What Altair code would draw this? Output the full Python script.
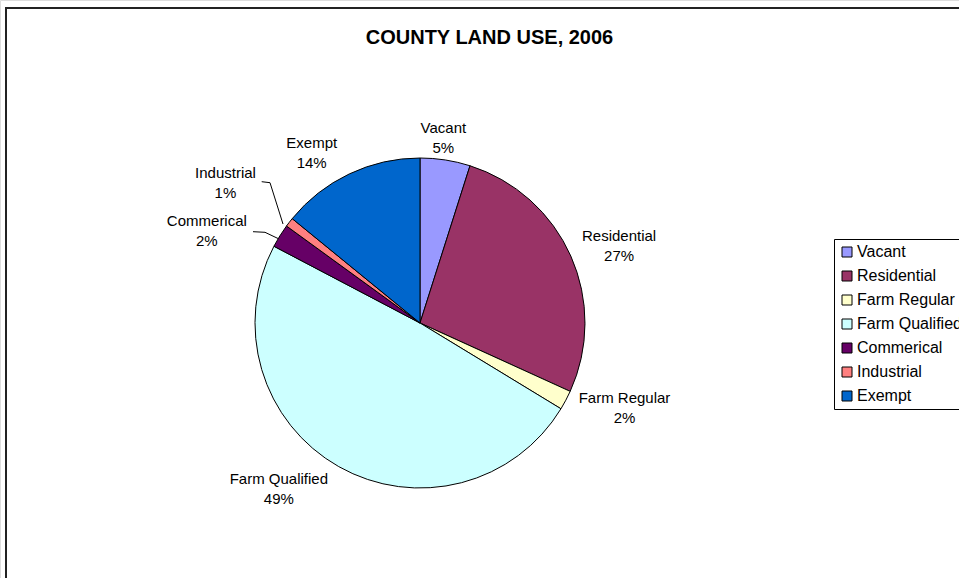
import altair as alt
import pandas as pd

categories = ["Vacant", "Residential", "Farm Regular", "Farm Qualified",
              "Commerical", "Industrial", "Exempt"]
values = [4.9, 26.9, 1.9, 49.0, 2.3, 0.9, 14.1]
colors = ["#9999FF", "#993366", "#FFFFCC", "#CCFFFF", "#660066", "#FF8080", "#0066CC"]
title_text = "COUNTY LAND USE, 2006"

df = pd.DataFrame({"category": categories, "value": values,
                   "idx": list(range(len(categories)))})

FONT = "Liberation Sans"
CX, CY = 420, 323   # pie centre (layout)
R = 165

base = alt.Chart(df)

theta_scale = alt.Scale(domain=[0, 100])

pie = base.mark_arc(x=CX, y=CY, outerRadius=R, stroke="black", strokeWidth=1).encode(
    theta=alt.Theta("value:Q", stack=True, scale=theta_scale),
    order=alt.Order("idx:Q"),
    color=alt.Color(
        "category:N",
        scale=alt.Scale(domain=categories, range=colors),
        sort=categories,
        legend=alt.Legend(
            title=None, orient="none", legendX=834, legendY=239,
            symbolType="square", symbolSize=100, symbolStrokeColor="black",
            symbolStrokeWidth=1, labelFont=FONT, labelFontSize=16,
            labelColor="black", rowPadding=8, labelOffset=2,
            strokeColor="black", fillColor="white", padding=5,
        ),
    ),
)

# label offsets (layout only)
label_pos = {
    "Vacant": (-5, -12),
    "Residential": (30, -12),
    "Farm Regular": (41, -12),
    "Farm Qualified": (-50, -5),
    "Commerical": (-56, -4),
    "Industrial": (-48, -37),
    "Exempt": (-29, -13),
}

label_layers = []
for cat in categories:
    ddx, ddy = label_pos[cat]
    lyr = base.transform_window(
        cum="sum(value)", sort=[alt.SortField("idx")], frame=[None, 0]
    ).transform_calculate(
        mid="datum.cum - datum.value / 2",
        label="datum.category + '\\n' + format(datum.value, '.0f') + '%'",
    ).transform_filter(
        alt.datum.category == cat
    ).mark_text(
        x=CX, y=CY, radius=185, dx=ddx, dy=ddy, font=FONT, fontSize=15,
        color="black", lineBreak="\n", lineHeight=20, align="center", baseline="middle",
    ).encode(
        theta=alt.Theta("mid:Q", stack=None, scale=theta_scale),
        text="label:N",
    )
    label_layers.append(lyr)

one = alt.Chart(alt.Data(values=[{"k": 1}]))

frame = one.mark_rect(fill="white", fillOpacity=0, stroke="#222222", strokeWidth=2).encode(
    x=alt.value(6), y=alt.value(8), x2=alt.value(2000), y2=alt.value(2000)
)

leader_segments = [
    (261.7, 181.7, 270, 182.7),
    (270, 182.7, 283, 224),
    (253, 231.7, 265, 232.3),
    (265, 232.3, 278, 238.5),
]
leaders = [
    one.mark_rule(color="black", strokeWidth=1).encode(
        x=alt.value(a), y=alt.value(b), x2=alt.value(c), y2=alt.value(d)
    )
    for a, b, c, d in leader_segments
]

chart = alt.layer(frame, pie, *label_layers, *leaders).properties(
    width=959, height=578,
    autosize=alt.AutoSizeParams(type="none"),
    padding=0,
    title=alt.TitleParams(
        text=title_text, font=FONT, fontSize=20, fontWeight="bold", color="black",
        anchor="middle", frame="group", orient="top", offset=0,
        baseline="alphabetic", dy=64, dx=10,
    ),
).configure_view(stroke=None).configure(background="white")

chart.save("out.html", embed_options={"renderer": "svg", "actions": False})
